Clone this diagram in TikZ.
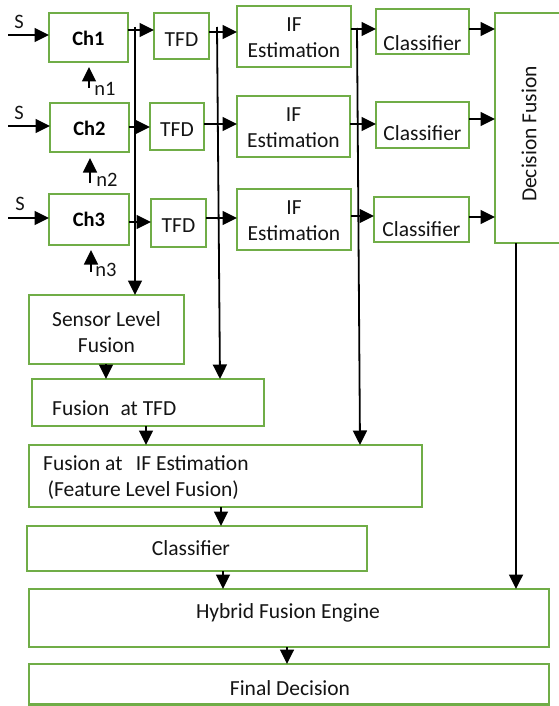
\documentclass[tikz,border=0pt]{standalone}
\usepackage{fontspec}
\setmainfont{Carlito}
\usetikzlibrary{arrows.meta}
\definecolor{boxgreen}{RGB}{112,173,71}
\definecolor{txtcol}{RGB}{20,20,20}
\begin{document}
\begin{tikzpicture}[x=1pt,y=-1pt,
  box/.style={draw=boxgreen,line width=2.2pt,rectangle,inner sep=0pt,outer sep=0pt,fill=white},
  txt/.style={font=\fontsize{21.5}{26}\selectfont,text=txtcol,inner sep=0pt,align=center},
  chtxt/.style={font=\fontsize{20.5}{26}\selectfont\bfseries,text=black,inner sep=0pt},
  lbl/.style={font=\fontsize{20.5}{24}\selectfont,text=txtcol,inner sep=0pt},
  arr/.style={line width=1.8pt,-{Triangle[length=14.5pt,width=14pt]}}]
\useasboundingbox (0,0) rectangle (558,706);
% boxes
\node[box,minimum width=79pt,minimum height=49pt] (ch1) at (88.5,37.5) {};
\node[box,minimum width=79pt,minimum height=49pt] (ch2) at (89.5,127.5) {};
\node[box,minimum width=80pt,minimum height=51pt] (ch3) at (89,219.5) {};
\node[box,minimum width=55pt,minimum height=46pt] (tfd1) at (181.5,36) {};
\node[box,minimum width=54pt,minimum height=47pt] (tfd2) at (177,126.5) {};
\node[box,minimum width=55pt,minimum height=48pt] (tfd3) at (178.5,223) {};
\node[box,minimum width=114pt,minimum height=61pt] (if1) at (294,36.5) {};
\node[box,minimum width=113pt,minimum height=61pt] (if2) at (293.5,126.5) {};
\node[box,minimum width=114pt,minimum height=61pt] (if3) at (294,219.5) {};
\node[box,minimum width=93pt,minimum height=45pt] (cl1) at (422.5,31.5) {};
\node[box,minimum width=93pt,minimum height=46pt] (cl2) at (422.5,125) {};
\node[box,minimum width=95pt,minimum height=45pt] (cl3) at (421.5,219.5) {};
\node[box,minimum width=67pt,minimum height=230pt] (df) at (528.5,128) {};
\node[box,minimum width=155pt,minimum height=69pt] (slf) at (106.5,329.5) {};
\node[box,minimum width=232pt,minimum height=47pt] (ftfd) at (148,402.5) {};
\node[box,minimum width=393pt,minimum height=62pt] (fif) at (225.5,476) {};
\node[box,minimum width=340pt,minimum height=45pt] (clf) at (197,548.5) {};
\node[box,minimum width=520pt,minimum height=58pt] (hfe) at (289,618) {};
\node[box,minimum width=520pt,minimum height=40.5pt] (fd) at (289,684.25) {};
% texts
\node[chtxt] (tch1) at (88.5,38) {Ch1};
\node[chtxt] (tch2) at (89.5,128) {Ch2};
\node[chtxt] (tch3) at (89,219) {Ch3};
\node[txt] (ttfd1) at (181.5,40) {TFD};
\node[txt] (ttfd2) at (177,130) {TFD};
\node[txt] (ttfd3) at (178.5,226) {TFD};
\node[txt] (tif1) at (294,38) {IF\\Estimation};
\node[txt] (tif2) at (293.5,128) {IF\\Estimation};
\node[txt] (tif3) at (294,221) {IF\\Estimation};
\node[txt] (tcl1) at (422.5,43) {Classifier};
\node[txt] (tcl2) at (422.5,133) {Classifier};
\node[txt] (tcl3) at (421.5,229) {Classifier};
\node[txt,rotate=90] (tdf) at (529,134) {Decision Fusion};
\node[txt] (tslf) at (106.5,332) {Sensor Level\\Fusion};
\node[txt,anchor=west] (tftfd) at (52,408) {Fusion\hspace{0.3em} at TFD};
\node[txt,anchor=west,align=left] (tfif) at (43,478) {Fusion at \hspace{0.4em}IF Estimation\\\hspace{0.2em}(Feature Level Fusion)};
\node[txt] (tclf) at (191,548) {Classifier};
\node[txt] (thfe) at (288,613) {Hybrid Fusion Engine};
\node[txt] (tfd) at (290,688) {Final Decision};
% input labels
\node[lbl] (s1) at (19,22) {S};
\node[lbl] (s2) at (19,113) {S};
\node[lbl] (s3) at (20,204) {S};
\node[lbl] (n1) at (105,89) {n1};
\node[lbl] (n2) at (107,180) {n2};
\node[lbl] (n3) at (106,270) {n3};
% free ends
\coordinate (si1) at (8,35);
\coordinate (si2) at (8,126);
\coordinate (si3) at (8,218);
\coordinate (ni1) at (89,88);
\coordinate (ni2) at (90,183);
\coordinate (ni3) at (91,272);
\coordinate (v1) at (135,27);
\coordinate (v2) at (217,27);
\coordinate (v3) at (357,28);
% input arrows
\draw[arr] (si1) -- (si1 -| ch1.west);
\draw[arr] (si2) -- (si2 -| ch2.west);
\draw[arr] (si3) -- (si3 -| ch3.west);
\draw[arr] (ni1) -- (ni1 |- 0,67);
\draw[arr] (ni2) -- (ni2 |- 0,158);
\draw[arr] (ni3) -- (ni3 |- 0,250);
% horizontal chain arrows
\draw[arr] (ch1.east |- 0,30) -- (tfd1.west |- 0,30);
\draw[arr] (ch2.east |- 0,127) -- (tfd2.west |- 0,127);
\draw[arr] (ch3.east |- 0,222) -- (tfd3.west |- 0,222);
\draw[arr] (tfd1.east |- 0,32) -- (if1.west |- 0,32);
\draw[arr] (tfd2.east |- 0,124) -- (if2.west |- 0,124);
\draw[arr] (tfd3.east |- 0,218) -- (if3.west |- 0,218);
\draw[arr] (if1.east |- 0,29) -- (cl1.west |- 0,29);
\draw[arr] (if2.east |- 0,124) -- (cl2.west |- 0,124);
\draw[arr] (if3.east |- 0,216) -- (cl3.west |- 0,216);
\draw[arr] (cl1.east |- 0,29) -- (df.west |- 0,29);
\draw[arr] (cl2.east |- 0,119) -- (df.west |- 0,119);
\draw[arr] (cl3.east |- 0,217) -- (df.west |- 0,217);
% long vertical arrows
\draw[arr] (v1) -- (slf.north -| v1);
\draw[arr] (v2) -- (ftfd.north -| 220,0);
\draw[arr] (v3) -- (fif.north -| 360,0);
\draw[arr] (df.south -| 516,0) -- (hfe.north -| 516,0);
% short vertical arrows
\draw[arr] (slf.south -| 106,0) -- (ftfd.north -| 106,0);
\draw[arr] (ftfd.south -| 146,0) -- (fif.north -| 146,0);
\draw[arr] (fif.south -| 221,0) -- (clf.north -| 221,0);
\draw[arr] (clf.south -| 223,0) -- (hfe.north -| 223,0);
\draw[arr] (hfe.south -| 287,0) -- (fd.north -| 287,0);
\end{tikzpicture}
\end{document}
